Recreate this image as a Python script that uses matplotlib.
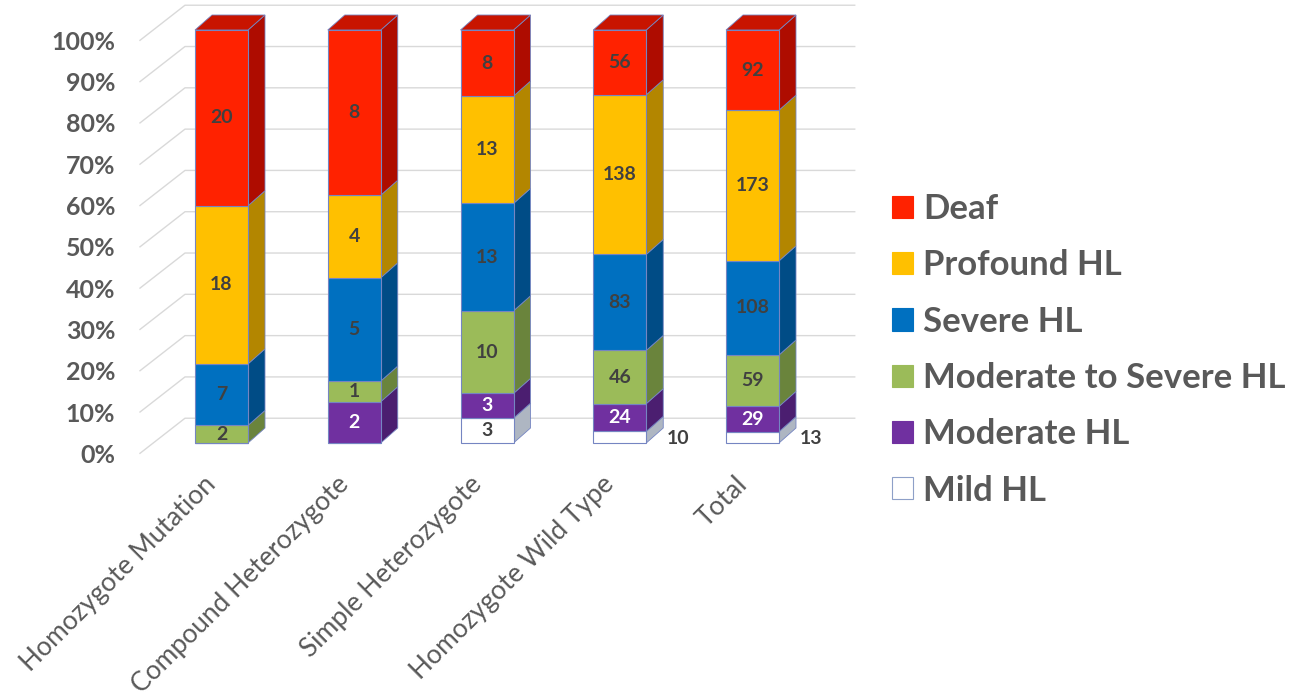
import matplotlib.pyplot as plt
from matplotlib.patches import Polygon, Patch
import numpy as np

plt.rcParams['font.family'] = ['Lato', 'DejaVu Sans']

groups = ['Homozygote Mutation', 'Compound Heterozygote', 'Simple Heterozygote',
          'Homozygote Wild Type', 'Total']

# stacked from the bottom up
levels = ['Mild HL', 'Moderate HL', 'Moderate to Severe HL', 'Severe HL', 'Profound HL', 'Deaf']
mild = [0, 0, 3, 10, 13]
moderate = [0, 2, 3, 24, 29]
mod_severe = [2, 1, 10, 46, 59]
severe = [7, 5, 13, 83, 108]
profound = [18, 4, 13, 138, 173]
deaf = [20, 8, 8, 56, 92]

front = ['#FFFFFF', '#7030A0', '#9BBB59', '#0070C0', '#FFC000', '#FF2200']
side = ['#AEB6C2', '#4B1E70', '#6A843C', '#004C86', '#B38600', '#AE0C00']
top_red = '#C81400'
label_col = ['#404040', '#FFFFFF', '#404040', '#404040', '#404040', '#404040']
edge = '#7585C2'
grid = '#D9D9D9'
txt = '#595959'

counts = np.array([mild, moderate, mod_severe, severe, profound, deaf], dtype=float)
pct = counts / counts.sum(axis=0) * 100

# pixel layout -> data units
W, H = 1290, 697
x0_px, step_px = 221.5, 132.75
y0_px, pct_px = 443, 4.13

fig = plt.figure(figsize=(W / 100, H / 100), dpi=100)
ax = fig.add_axes([0, 0, 1, 1])
ax.set_xlim(-x0_px / step_px, (W - x0_px) / step_px)
ax.set_ylim((y0_px - H) / pct_px, y0_px / pct_px)
ax.axis('off')

bw = 53 / step_px
dx, dy = 17 / step_px, 15 / pct_px

# walls: diagonal floor-to-wall lines plus horizontal back gridlines
gx_front, gx_back, gx_end = -0.614, -0.275, 4.77
for p in range(0, 101, 10):
    ax.plot([gx_front, gx_back, gx_end], [p - 2.5, p + 6.0, p + 6.0],
            color=grid, lw=1.0, zorder=1)
    ax.text(-0.80, p - 3.0, f'{p}%', ha='right', va='center',
            fontsize=18, fontweight='bold', color=txt)

x = np.arange(len(groups))
bottom = np.zeros(len(groups))
for k, lev in enumerate(levels):
    vals = pct[k]
    ax.bar(x, vals, bw, bottom=bottom, color=front[k], edgecolor=edge,
           linewidth=0.8, zorder=3)
    for i in range(len(groups)):
        if vals[i] <= 0:
            continue
        b, t = bottom[i], bottom[i] + vals[i]
        r = x[i] + bw / 2
        ax.add_patch(Polygon([(r, b), (r + dx, b + dy), (r + dx, t + dy), (r, t)],
                             closed=True, facecolor=side[k], edgecolor=edge,
                             linewidth=0.6, zorder=2))
        n = int(counts[k, i])
        if vals[i] < 4:
            ax.text(r + dx + 0.03, b + vals[i] / 2 - 0.3, str(n), ha='left', va='center',
                    fontsize=14, fontweight='bold', color='#404040', zorder=5)
        else:
            ax.text(x[i], b + vals[i] / 2, str(n), ha='center', va='center',
                    fontsize=14, fontweight='bold', color=label_col[k], zorder=5)
    bottom += vals

# lids
for i in range(len(groups)):
    l, r = x[i] - bw / 2, x[i] + bw / 2
    ax.add_patch(Polygon([(l, 100), (l + dx, 100 + dy), (r + dx, 100 + dy), (r, 100)],
                         closed=True, facecolor=top_red, edgecolor=edge,
                         linewidth=0.6, zorder=2))

for i, g in enumerate(groups):
    ax.text(x[i] - 0.07, -9.0, g, rotation=45, rotation_mode='anchor',
            ha='right', va='center', fontsize=19, color=txt)

handles = [Patch(facecolor=front[k], edgecolor='#8EA0C8' if k == 0 else front[k],
                 linewidth=0.8) for k in range(len(levels))][::-1]
fig.legend(handles, levels[::-1], loc='upper left', bbox_to_anchor=(892 / W, 1 - 193 / H),
           frameon=False, prop={'weight': 'bold', 'size': 25}, labelcolor=txt,
           handlelength=0.61, handleheight=0.61, handletextpad=0.29, labelspacing=0.7,
           borderpad=0, borderaxespad=0)

fig.savefig('out.png', dpi=100)
